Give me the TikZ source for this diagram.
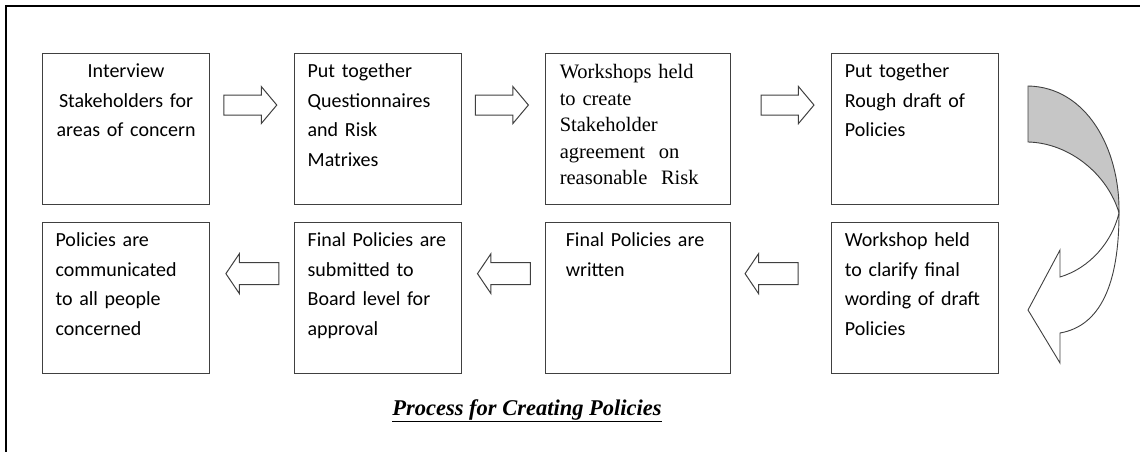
\documentclass[tikz,border=0pt]{standalone}
\usepackage{fontspec}
\usepackage{tikz}
\usetikzlibrary{%
	calc,%
	positioning,%
	shapes.arrows%
}
\newfontfamily\boxfont{Carlito}
\newfontfamily\serfont{Liberation Serif}
\definecolor{linegray}{HTML}{404040}

\begin{document}
\begin{tikzpicture}[x=1pt,y=-1pt,
	stepbox/.style={draw=linegray, line width=1.1pt, text width=141pt, inner xsep=13pt, inner ysep=0pt,
		text height=24pt, text depth=127pt, align=left, font=\boxfont\fontsize{20}{29.5}\selectfont},
	serbox/.style={stepbox, text width=157pt, inner xsep=14pt, text height=25pt, text depth=126pt,
		font=\serfont\fontsize{20.5}{26.5}\selectfont},
	rarrow/.style={single arrow, draw=linegray, line width=1pt, fill=white, inner xsep=0pt, inner ysep=9.5pt,
		minimum height=53pt, single arrow head extend=8.5pt, single arrow tip angle=100},
	larrow/.style={rarrow, shape border rotate=180, inner ysep=10.5pt, single arrow head extend=9pt, single arrow tip angle=112}
	]
	\useasboundingbox (0,0) rectangle (1140,452);
	
	% Frame
	\draw[line width=2.2pt] (6,452) -- (6,6) -- (1140,6);
	
	% Top row of steps
	\node[stepbox, anchor=north west, align=center] (b1) at (42,53) {Interview\\Stakeholders for\\areas of concern};
	\node[stepbox, right=84pt of b1] (b2) {Put together\\Questionnaires\\and Risk\\Matrixes};
	\node[serbox, right=83pt of b2] (b3) {Workshops held\\to create\\Stakeholder\\agreement\ \ on\\reasonable\ \ Risk};
	\node[stepbox, right=100pt of b3] (b4) {Put together\\Rough draft of\\Policies};
	
	% Bottom row of steps
	\node[stepbox, below=17pt of b1] (c1) {Policies are\\communicated\\to all people\\concerned};
	\node[stepbox, below=17pt of b2] (c2) {Final Policies are\\submitted to\\Board level for\\approval};
	\node[stepbox, below=17pt of b3, text width=145pt, inner xsep=20pt] (c3) {Final Policies are\\written};
	\node[stepbox, below=17pt of b4] (c4) {Workshop held\\to clarify final\\wording of draft\\Policies};
	
	% Block arrows between the steps
	\node[rarrow, yshift=24pt, xshift=-6pt] (r1) at ($(b1.east)!0.5!(b2.west)$) {};
	\node[rarrow, yshift=24pt, xshift=-6pt] (r2) at ($(b2.east)!0.5!(b3.west)$) {};
	\node[rarrow, yshift=24pt, xshift=2pt] (r3) at ($(b3.east)!0.5!(b4.west)$) {};
	\node[larrow, yshift=24.5pt, xshift=4pt] (l1) at ($(c1.east)!0.5!(c2.west)$) {};
	\node[larrow, yshift=24.5pt, xshift=4pt] (l2) at ($(c2.east)!0.5!(c3.west)$) {};
	\node[larrow, yshift=24.5pt, xshift=-6pt] (l3) at ($(c3.east)!0.5!(c4.west)$) {};
	
	% Curved arrow from top row down to bottom row
	\filldraw[fill=gray!45, draw=linegray, line width=0.9pt] (1028,86) .. controls (1086,87) and (1120,148) .. (1119,213)
		.. controls (1108,175) and (1070,143) .. (1028,142) -- cycle;
	\filldraw[fill=white, draw=linegray, line width=0.9pt] (1119,213) .. controls (1119,285) and (1100,326) .. (1060,333)
		-- (1060,363) -- (1028,310) -- (1060,250) -- (1060,277)
		.. controls (1090,268) and (1112,242) .. (1119,213) -- cycle;
	
	% Caption
	\node[anchor=base, font=\serfont\bfseries\itshape\fontsize{22.5}{27}\selectfont] (title) at (527,415) {\underline{Process for Creating Policies}};
\end{tikzpicture}
\end{document}
